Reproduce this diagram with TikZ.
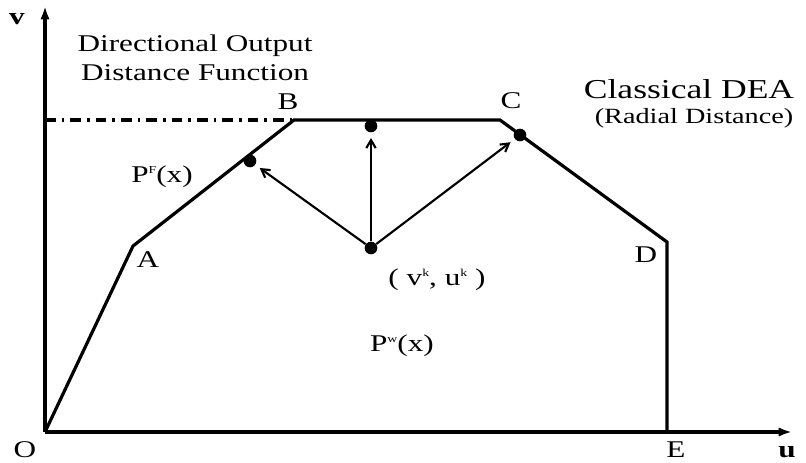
\documentclass[tikz,border=0pt]{standalone}
\usepackage{fontspec}
\setmainfont{Liberation Serif}
\usepackage{graphicx}
\usetikzlibrary{arrows.meta}
\newcommand{\hs}[1]{\scalebox{1.3}[1]{#1}}
\newcommand{\tinysup}[1]{\raisebox{7pt}{\fontsize{8}{8}\selectfont #1}}
\begin{document}
\begin{tikzpicture}[x=0.75pt,y=-0.75pt,
  frontier/.style={line width=2.4pt, line join=miter},
  axis/.style={line width=2.4pt, -{Latex[length=10pt,width=7pt]}},
  vec/.style={line width=1.6pt, -{Straight Barb[length=6pt,width=7pt]}, shorten >=4pt},
  dot/.style={circle, fill, inner sep=0pt, minimum size=9.5pt},
  lab/.style={font=\fontsize{18}{20}\selectfont, inner sep=0pt},
  ]
\useasboundingbox (0,0) rectangle (806,462);
% frontier corners
\coordinate (O) at (45,432);
\coordinate (A) at (133,246);
\coordinate (B) at (294,120);
\coordinate (C) at (500,120);
\coordinate (D) at (667,242);
\coordinate (E) at (667,432);
\coordinate (ytip) at (45,6);
\coordinate (xtip) at (792,432);
\coordinate (ydash) at (45,120);
% axes
\draw[axis] (O) -- (ytip);
\draw[axis] (O) -- (xtip);
% dash-dot line
\draw[line width=2.4pt, dash pattern=on 8pt off 4.5pt on 2pt off 4.5pt] (ydash) -- (B);
% frontier
\draw[frontier] (O) -- (A) -- (B) -- (C) -- (D) -- (E);
% points
\node[dot] (k) at (371,248) {};
\node[dot] (p1) at (250,161) {};
\node[dot] (p2) at (371,126) {};
\node[dot] (p3) at (520,135) {};
\draw[vec] (k) -- (p1);
\draw[vec] (k) -- (p2);
\draw[vec] (k) -- (p3);
% labels
\node[lab, font=\fontsize{18}{20}\selectfont\bfseries] (lv) at (17,19) {\hs{v}};
\node[lab, font=\fontsize{18}{20}\selectfont\bfseries] (lu) at (787,452) {\hs{u}};
\node[lab] (lO) at (25,450) {\hs{O}};
\node[lab] (lE) at (676,450) {\hs{E}};
\node[lab] (lA) at (148,260) {\hs{A}};
\node[lab] (lB) at (288,102) {\hs{B}};
\node[lab] (lC) at (511,101) {\hs{C}};
\node[lab] (lD) at (646,255) {\hs{D}};
\node[lab] (dir1) at (195,46) {\hs{Directional Output}};
\node[lab] (dir2) at (195,73) {\hs{Distance Function}};
\node[lab, font=\fontsize{20.5}{22}\selectfont] (cl1) at (689,89) {\hs{Classical DEA}};
\node[lab, font=\fontsize{16.3}{18}\selectfont] (cl2) at (694,118) {\hs{(Radial Distance)}};
\node[lab] (PF) at (162,177) {\hs{P\tinysup{F}(x)}};
\node[lab] (PW) at (402,346) {\hs{P\tinysup{w}(x)}};
\node[lab] (vk) at (437,280) {\hs{( v\tinysup{k}, u\tinysup{k} )}};
\end{tikzpicture}
\end{document}
